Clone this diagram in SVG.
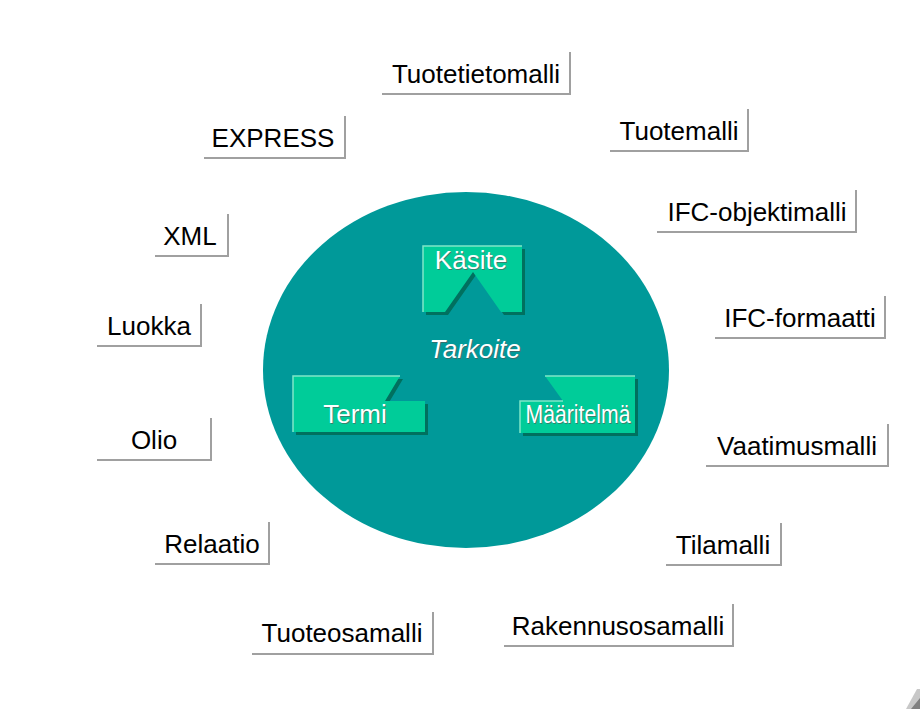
<svg xmlns="http://www.w3.org/2000/svg" width="920" height="709" viewBox="0 0 920 709">
<style>
.lbl{font-family:"Liberation Sans",Arial,sans-serif;font-size:26px;fill:#000;text-anchor:middle}
.box{fill:none;stroke:#a0a0a0;stroke-width:2}
.nd{fill:#00cc99}
.sh{fill:#00705f}
.hl{fill:none;stroke:#7fe6c8;stroke-width:1.5}
.wt{font-family:"Liberation Sans",Arial,sans-serif;font-size:26px;fill:#fff;text-anchor:middle}
.wts{font-family:"Liberation Sans",Arial,sans-serif;font-size:26px;fill:#555;text-anchor:middle;opacity:0.6}
</style>
<rect width="920" height="709" fill="#fff"/>
<g id="connectors"></g>
<g id="circle"><ellipse cx="466" cy="370" rx="203" ry="178" fill="#009999"/></g>
<g id="kasite">
<polygon class="sh" points="426,249 525,249 525,315 504,315 476,275 448,315 426,315"/>
<polygon class="nd" points="423,246 522,246 522,312 501,312 473,272 445,312 423,312"/>
<polyline class="hl" points="423,312 423,246 522,246"/>
<text class="wts" x="472" y="270">Käsite</text>
<text class="wt" x="471" y="269">Käsite</text>
</g>
<g id="termi">
<polygon class="sh" points="296,379 403,379 388,404 428,404 428,435 296,435"/>
<polygon class="nd" points="293,376 400,376 385,401 425,401 425,432 293,432"/>
<polyline class="hl" points="293,432 293,376 400,376"/>
<text class="wts" x="356" y="424">Termi</text>
<text class="wt" x="355" y="423">Termi</text>
</g>
<g id="maaritelma">
<polygon class="sh" points="548,379 638,379 638,436 523,436 523,404 566,404"/>
<polygon class="nd" points="545,376 635,376 635,433 520,433 520,401 563,401"/>
<polyline class="hl" points="520,433 520,401 563,401"/>
<line class="hl" x1="545" y1="376" x2="635" y2="376"/>
<text class="wts" x="579" y="424" textLength="105" lengthAdjust="spacingAndGlyphs">Määritelmä</text>
<text class="wt" x="578" y="423" textLength="105" lengthAdjust="spacingAndGlyphs">Määritelmä</text>
</g>
<g id="tarkoite">
<text class="wts" x="476" y="359" font-style="italic" font-size="24">Tarkoite</text>
<text class="wt" x="475" y="358" font-style="italic" font-size="24">Tarkoite</text>
</g>
<g id="l1"><path class="box" d="M382 94H570V52"/><text class="lbl" x="476" y="83">Tuotetietomalli</text></g>
<g id="l2"><path class="box" d="M204 158H345V116"/><text class="lbl" x="273" y="147">EXPRESS</text></g>
<g id="l3"><path class="box" d="M610 151H748V109"/><text class="lbl" x="679" y="140">Tuotemalli</text></g>
<g id="l4"><path class="box" d="M657 232H856V190"/><text class="lbl" x="757" y="221">IFC-objektimalli</text></g>
<g id="l5"><path class="box" d="M155 256H228V214"/><text class="lbl" x="190" y="245">XML</text></g>
<g id="l6"><path class="box" d="M97 346H201V304"/><text class="lbl" x="149" y="335">Luokka</text></g>
<g id="l7"><path class="box" d="M715 338H885V296"/><text class="lbl" x="800" y="327">IFC-formaatti</text></g>
<g id="l8"><path class="box" d="M97 460H211V418"/><text class="lbl" x="154" y="449">Olio</text></g>
<g id="l9"><path class="box" d="M706 466H888V424"/><text class="lbl" x="797" y="455">Vaatimusmalli</text></g>
<g id="l10"><path class="box" d="M155 564H269V522"/><text class="lbl" x="212" y="553">Relaatio</text></g>
<g id="l11"><path class="box" d="M666 565H781V523"/><text class="lbl" x="723" y="554">Tilamalli</text></g>
<g id="l12"><path class="box" d="M252 654H433V612"/><text class="lbl" x="342" y="642">Tuoteosamalli</text></g>
<g id="l13"><path class="box" d="M504 646H733V604"/><text class="lbl" x="618" y="635">Rakennusosamalli</text></g>
<g id="corner">
<polygon points="906,709 917,689 920,689 920,709" fill="#c8c8c8"/>
<polygon points="911,709 920,698 920,709" fill="#808080"/>
</g>
</svg>
